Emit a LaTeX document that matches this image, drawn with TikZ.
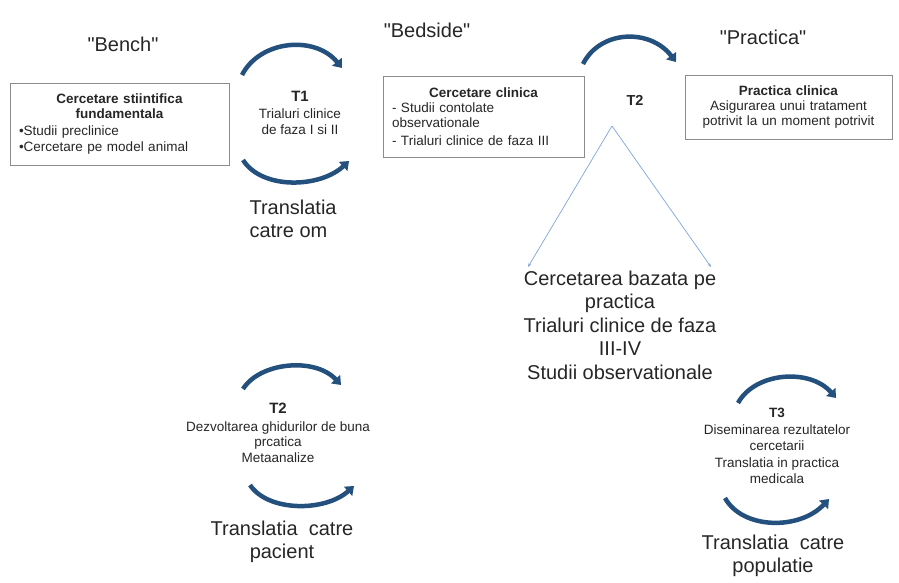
\documentclass[tikz,border=0pt]{standalone}
\usepackage{fontspec}
\setmainfont{Liberation Sans}
\usetikzlibrary{arrows.meta}
\definecolor{bandblue}{HTML}{24507D}
\definecolor{thinblue}{HTML}{7FA6D6}
\definecolor{boxgray}{HTML}{8C8C8C}
\definecolor{txtgray}{HTML}{262626}
\begin{document}
\begin{tikzpicture}[x=1pt, y=1pt,
    box/.style={draw=boxgray, line width=0.8pt, inner xsep=9pt, inner ysep=0pt, text=txtgray, font=\fontsize{13.5}{15}\selectfont},
    small/.style={align=center, text=txtgray, font=\fontsize{13.5}{16.5}\selectfont},
    big/.style={text=txtgray, font=\fontsize{20}{23.5}\selectfont},
    tlabel/.style={text=txtgray, font=\fontsize{14.5}{16}\selectfont\bfseries},
    turn/.style={draw=bandblue, line width=4.5pt, -{Triangle[length=8pt,width=12pt]}},
    thin/.style={draw=thinblue, line width=0.7pt, -{Stealth[length=4pt,width=3pt]}}]
\useasboundingbox (0,0) rectangle (899,-583);

% stage labels
\node[big] (bench) at (123,-44) {\textquotedbl Bench\textquotedbl};
\node[big] (bedside) at (427,-30) {\textquotedbl Bedside\textquotedbl};
\node[big] (practica) at (763,-37) {\textquotedbl Practica\textquotedbl};

% boxes
\node[box, text width=201pt, minimum height=82pt] (fund) at (119.5,-124)
    {\centering\textbf{Cercetare stiintifica\\fundamentala}\par\vspace{2pt}\raggedright
     •Studii preclinice\\[1.5pt]•Cercetare pe model animal\par};
\node[box, text width=183pt, minimum height=81pt] (clin) at (483.5,-116.5)
    {\centering\textbf{Cercetare clinica}\par\raggedright
     - Studii contolate\\observationale\\[3pt]- Trialuri clinice de faza III\par};
\node[box, text width=189pt, minimum height=64pt, align=center] (prac) at (788.5,-107)
    {\textbf{Practica clinica}\\Asigurarea unui tratament\\potrivit la un moment potrivit};

% T1
\draw[turn] (242,-75) .. controls (260,-40) and (315,-35) .. (342,-68);
\node[small] (t1) at (300,-113) {{\fontsize{15}{16}\selectfont\bfseries T1}\\Trialuri clinice\\de faza I si II};
\draw[turn] (243,-160) .. controls (262,-190) and (320,-188) .. (349,-161);
\node[big, align=left, anchor=west] (om) at (246,-219) {Translatia\\catre om};

% T2
\draw[turn] (583,-64) .. controls (600,-30) and (650,-28) .. (676,-62);
\node[tlabel] (t2) at (635,-100) {T2};
\coordinate (apex) at (612,-126);
\coordinate (leftend) at (528,-267);
\coordinate (rightend) at (711,-267);
\draw[thin] (apex) -- (leftend);
\draw[thin] (apex) -- (rightend);
\node[big, align=center] (based) at (620,-325)
    {Cercetarea bazata pe\\practica\\Trialuri clinice de faza\\III-IV\\Studii observationale};

% T2 ghiduri
\draw[turn] (243,-389) .. controls (260,-362) and (315,-357) .. (341,-385);
\node[small, font=\fontsize{13.5}{15.5}\selectfont] (t2b) at (278,-433)
    {{\fontsize{15}{16}\selectfont\bfseries T2}\\[2pt]Dezvoltarea ghidurilor de buna\\prcatica\\Metaanalize};
\draw[turn] (250,-485) .. controls (268,-512) and (325,-512) .. (354,-486);
\node[big, align=center] (pacient) at (282,-542) {Translatia~ catre\\pacient};

% T3
\draw[turn] (738,-403) .. controls (755,-372) and (810,-368) .. (836,-398);
\node[small] (t3) at (777,-446) {\textbf{T3}\\Diseminarea rezultatelor\\cercetarii\\Translatia in practica\\medicala};
\draw[turn] (725,-498) .. controls (743,-530) and (800,-530) .. (829,-499);
\node[big, align=center] (populatie) at (773,-556) {Translatia~ catre\\populatie};
\end{tikzpicture}
\end{document}
